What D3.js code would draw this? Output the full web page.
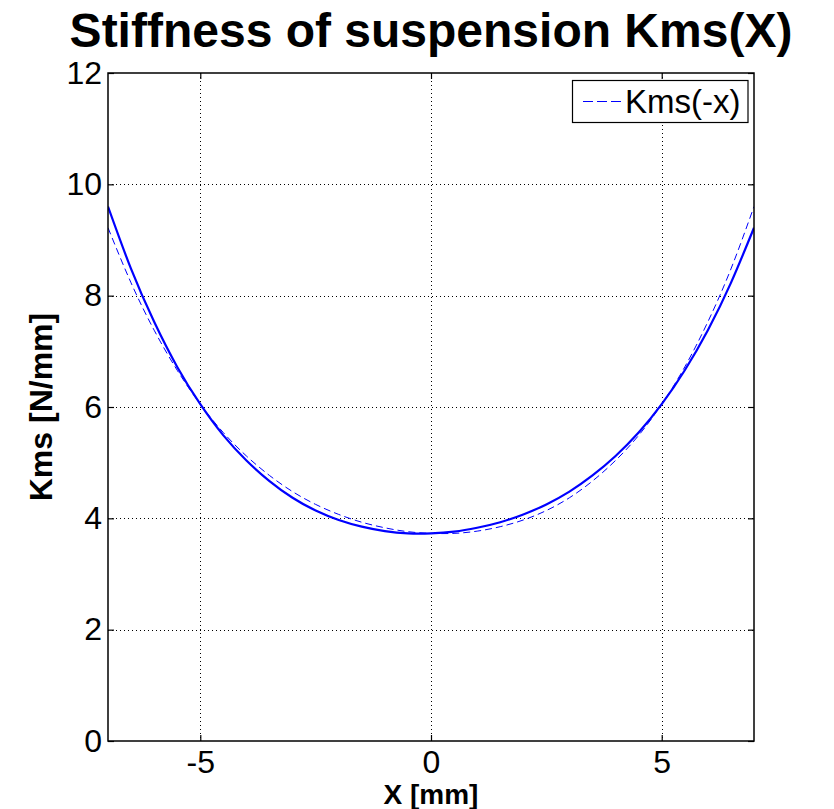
<!DOCTYPE html>
<html>
<head>
<meta charset="utf-8">
<script src="https://cdn.jsdelivr.net/npm/d3@7"></script>
<style>
  html, body { margin: 0; padding: 0; background: #fff; }
  svg { display: block; font-family: "Liberation Sans", Arial, Helvetica, sans-serif; }
</style>
</head>
<body>
<svg id="chart" width="834" height="809"></svg>
<script>
// ---- data ----
const xValues = [-7, -6.5, -6, -5.5, -5, -4.5, -4, -3.5, -3, -2.5, -2, -1.5, -1, -0.5, 0,
                 0.5, 1, 1.5, 2, 2.5, 3, 3.5, 4, 4.5, 5, 5.5, 6, 6.5, 7];
const kmsValues = [9.60, 8.48, 7.53, 6.72, 6.05, 5.49, 5.04, 4.67, 4.37, 4.14, 3.97, 3.85, 3.77, 3.73, 3.73,
                   3.76, 3.83, 3.93, 4.07, 4.25, 4.48, 4.77, 5.12, 5.54, 6.05, 6.66, 7.38, 8.23, 9.22];
// Kms(-x): the mirrored curve
const kmsMirrorValues = [9.22, 8.23, 7.38, 6.66, 6.05, 5.54, 5.12, 4.77, 4.48, 4.25, 4.07, 3.93, 3.83, 3.76, 3.73,
                         3.73, 3.77, 3.85, 3.97, 4.14, 4.37, 4.67, 5.04, 5.49, 6.05, 6.72, 7.53, 8.48, 9.60];
const xTicks = [-5, 0, 5];
const yTicks = [0, 2, 4, 6, 8, 10, 12];
const titleText = "Stiffness of suspension Kms(X)";
const xLabel = "X [mm]";
const yLabel = "Kms [N/mm]";
const legendLabel = "Kms(-x)";

// ---- layout ----
const svg = d3.select("#chart");
const L = 108, R = 754, T = 73, B = 741;
const x = d3.scaleLinear().domain([-7, 7]).range([L, R]);
const y = d3.scaleLinear().domain([0, 12]).range([B, T]);
const tickLen = 6;

// grid
const grid = svg.append("g").attr("stroke", "#000").attr("stroke-width", 1)
  .attr("stroke-dasharray", "1,3").attr("fill", "none");
xTicks.forEach(t => grid.append("line")
  .attr("x1", Math.round(x(t)) + 0.5).attr("x2", Math.round(x(t)) + 0.5)
  .attr("y1", T).attr("y2", B));
yTicks.filter(t => t > 0 && t < 12).forEach(t => grid.append("line")
  .attr("y1", Math.round(y(t)) + 0.5).attr("y2", Math.round(y(t)) + 0.5)
  .attr("x1", L).attr("x2", R));

// curves
const defs = svg.append("defs");
defs.append("clipPath").attr("id", "plotclip").append("rect")
  .attr("x", L).attr("y", T).attr("width", R - L).attr("height", B - T);
const line = d3.line().x(d => x(d[0])).y(d => y(d[1])).curve(d3.curveNatural);
const gCurves = svg.append("g").attr("clip-path", "url(#plotclip)");
gCurves.append("path")
  .datum(xValues.map((v, i) => [v, kmsMirrorValues[i]]))
  .attr("d", line).attr("fill", "none").attr("stroke", "#0000ff")
  .attr("stroke-width", 1).attr("stroke-dasharray", "7,4");
gCurves.append("path")
  .datum(xValues.map((v, i) => [v, kmsValues[i]]))
  .attr("d", line).attr("fill", "none").attr("stroke", "#0000ff")
  .attr("stroke-width", 2.2);

// axes (ticks inside, box on all sides)
const fmt = d => String(d);
const xAxisB = d3.axisBottom(x).tickValues(xTicks).tickSizeInner(-tickLen).tickSizeOuter(0).tickPadding(9).tickFormat(fmt);
const xAxisT = d3.axisTop(x).tickValues(xTicks).tickSizeInner(-tickLen).tickSizeOuter(0).tickFormat("");
const yAxisL = d3.axisLeft(y).tickValues(yTicks).tickSizeInner(-tickLen).tickSizeOuter(0).tickPadding(6).tickFormat(fmt);
const yAxisR = d3.axisRight(y).tickValues(yTicks).tickSizeInner(-tickLen).tickSizeOuter(0).tickFormat("");

function styleAxis(g) {
  g.select(".domain").remove();
  g.selectAll(".tick line").attr("stroke", "#000").attr("stroke-width", 1.2);
  g.selectAll(".tick text").attr("fill", "#000").style("font-size", "32px")
    .style("font-family", "'Liberation Sans', Arial, sans-serif");
}
svg.append("g").attr("transform", `translate(0,${B})`).call(xAxisB).call(styleAxis)
  .selectAll(".tick text").attr("dy", "0.71em");
svg.append("g").attr("transform", `translate(0,${T})`).call(xAxisT).call(styleAxis);
svg.append("g").attr("transform", `translate(${L},0)`).call(yAxisL).call(styleAxis);
svg.append("g").attr("transform", `translate(${R},0)`).call(yAxisR).call(styleAxis);

// frame
svg.append("rect").attr("x", L).attr("y", T).attr("width", R - L).attr("height", B - T)
  .attr("fill", "none").attr("stroke", "#000").attr("stroke-width", 1.5);

// title
svg.append("text").attr("x", (L + R) / 2).attr("y", 47).attr("text-anchor", "middle")
  .style("font-size", "48px").style("font-weight", "bold").text(titleText);

// axis labels
svg.append("text").attr("x", (L + R) / 2).attr("y", 804).attr("text-anchor", "middle")
  .style("font-size", "28px").style("font-weight", "bold").text(xLabel);
svg.append("text").attr("transform", `translate(52,${(T + B) / 2}) rotate(-90)`)
  .attr("text-anchor", "middle")
  .style("font-size", "32px").style("font-weight", "bold").text(yLabel);

// legend
const lg = svg.append("g");
lg.append("rect").attr("x", 572.5).attr("y", 80.5).attr("width", 175.5).attr("height", 42)
  .attr("fill", "#fff").attr("stroke", "#000").attr("stroke-width", 1.2);
lg.append("line").attr("x1", 583).attr("x2", 622).attr("y1", 101.5).attr("y2", 101.5)
  .attr("stroke", "#0000ff").attr("stroke-width", 1).attr("stroke-dasharray", "10,4");
lg.append("text").attr("x", 625).attr("y", 113).style("font-size", "33px").text(legendLabel);
</script>
</body>
</html>
